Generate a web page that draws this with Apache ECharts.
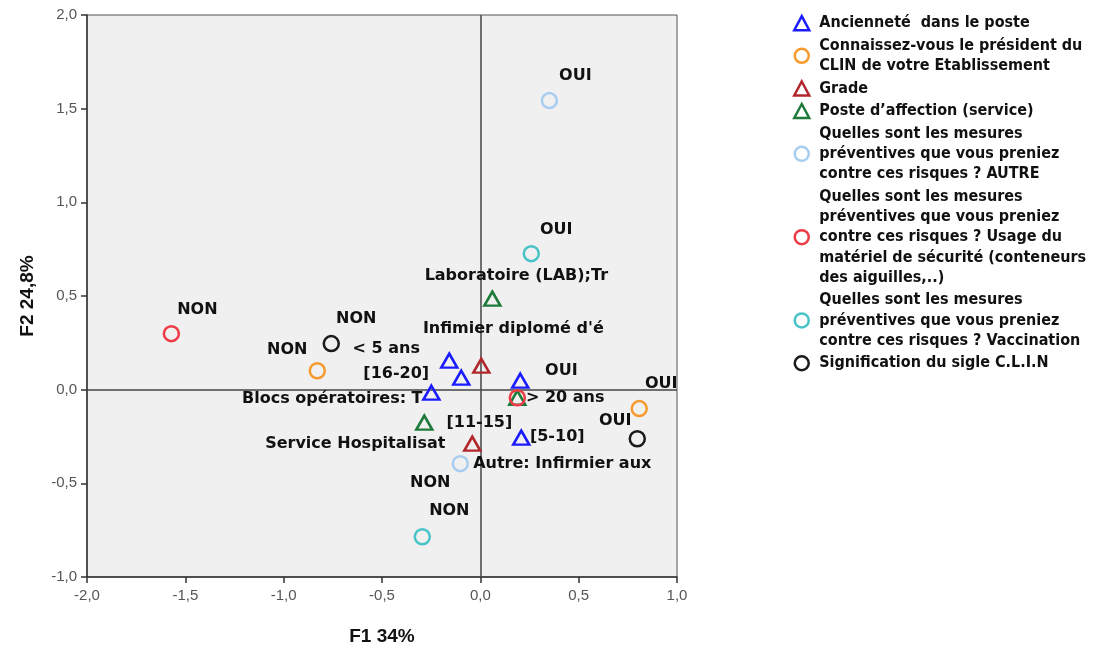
<!DOCTYPE html>
<html>
<head>
<meta charset="utf-8">
<script src="https://cdn.jsdelivr.net/npm/echarts@6/dist/echarts.min.js"></script>
<style>html,body{margin:0;padding:0;background:#fff;}#chart{width:1104px;height:651px;}</style>
</head>
<body>
<div id="chart"></div>
<script>
// ---- Data ----
const seriesNames = [
  'Ancienneté  dans le poste',
  'Connaissez-vous le président du CLIN de votre Etablissement',
  'Grade',
  'Poste d’affection (service)',
  'Quelles sont les mesures préventives que vous preniez contre ces risques ? AUTRE',
  'Quelles sont les mesures préventives que vous preniez contre ces risques ? Usage du matériel de sécurité (conteneurs des aiguilles,..)',
  'Quelles sont les mesures préventives que vous preniez contre ces risques ? Vaccination',
  'Signification du sigle C.L.I.N'
];
const legendLines = [
  'Ancienneté  dans le poste',
  'Connaissez-vous le président du\nCLIN de votre Etablissement',
  'Grade',
  'Poste d’affection (service)',
  'Quelles sont les mesures\npréventives que vous preniez\ncontre ces risques ? AUTRE',
  'Quelles sont les mesures\npréventives que vous preniez\ncontre ces risques ? Usage du\nmatériel de sécurité (conteneurs\ndes aiguilles,..)',
  'Quelles sont les mesures\npréventives que vous preniez\ncontre ces risques ? Vaccination',
  'Signification du sigle C.L.I.N'
];

const ancienneteLabels = ['< 5 ans', '[16-20]', '[11-15]', '> 20 ans', '[5-10]'];
const ancienneteF1 = [-0.158, -0.097, -0.249, 0.203, 0.208];
const ancienneteF2 = [0.155, 0.064, -0.016, 0.048, -0.256];

const clinLabels = ['NON', 'OUI'];
const clinF1 = [-0.829, 0.808];
const clinF2 = [0.101, -0.101];

const gradeLabels = ['Infimier diplomé d\'é', 'Autre: Infirmier aux'];
const gradeF1 = [0.005, -0.041];
const gradeF2 = [0.128, -0.288];

const posteLabels = ['Laboratoire (LAB);Tr', 'Blocs opératoires: T', 'Service Hospitalisat'];
const posteF1 = [0.061, -0.285, 0.188];
const posteF2 = [0.486, -0.176, -0.043];

const autreLabels = ['OUI', 'NON'];
const autreF1 = [0.351, -0.102];
const autreF2 = [1.543, -0.395];

const usageLabels = ['NON', 'OUI'];
const usageF1 = [-1.571, 0.188];
const usageF2 = [0.299, -0.043];

const vaccinLabels = ['OUI', 'NON'];
const vaccinF1 = [0.259, -0.295];
const vaccinF2 = [0.726, -0.785];

const sigleLabels = ['NON', 'OUI'];
const sigleF1 = [-0.758, 0.798];
const sigleF2 = [0.246, -0.262];

const xTicks = [-2.0, -1.5, -1.0, -0.5, 0.0, 0.5, 1.0];
const yTicks = [-1.0, -0.5, 0.0, 0.5, 1.0, 1.5, 2.0];

// ---- Layout / styles ----
const seriesF1 = [ancienneteF1, clinF1, gradeF1, posteF1, autreF1, usageF1, vaccinF1, sigleF1];
const seriesF2 = [ancienneteF2, clinF2, gradeF2, posteF2, autreF2, usageF2, vaccinF2, sigleF2];
const seriesLabels = [ancienneteLabels, clinLabels, gradeLabels, posteLabels, autreLabels, usageLabels, vaccinLabels, sigleLabels];
const colors = ['#1b1bff', '#f79a2e', '#b2272d', '#1e7a3a', '#a8cdf0', '#ee3b46', '#48c4c8', '#1a1a1a'];
const shapes = ['triangle', 'circle', 'triangle', 'triangle', 'circle', 'circle', 'circle', 'circle'];
const labelOffsets = [
  [[-63, -12], [-65, -4], [48, 30], [45, 17], [36, -1]],
  [[-30, -21], [22, -25]],
  [[32, -37], [90, 20]],
  [[24, -23], [-92, -24], [-162, 46]],
  [[26, -25], [-30, 19]],
  [[26, -24], [44, -27]],
  [[25, -24], [27, -26]],
  [[25, -25], [-22, -18]]
];

const fmt = v => v.toFixed(1).replace('.', ',');

const series = seriesNames.map((name, i) => {
  const data = seriesF1[i].map((x, j) => ({
    value: [x, seriesF2[i][j]],
    name: seriesLabels[i][j],
    label: { offset: labelOffsets[i][j] }
  }));
  const s = {
    name: name,
    type: 'scatter',
    symbol: shapes[i],
    symbolSize: shapes[i] === 'triangle' ? [16, 14] : 15,
    itemStyle: { color: 'rgba(0,0,0,0)', borderColor: colors[i], borderWidth: 2.5, opacity: 1 },
    label: {
      show: true,
      position: 'inside',
      formatter: p => p.name,
      fontFamily: 'DejaVu Sans',
      fontWeight: 'bold',
      fontSize: 16,
      color: '#111',
      align: 'center',
      verticalAlign: 'middle'
    },
    emphasis: { disabled: true },
    data: data,
    z: 3
  };
  if (i === 0) {
    s.markLine = {
      silent: true,
      symbol: 'none',
      label: { show: false },
      lineStyle: { color: '#444', width: 1.5, type: 'solid' },
      data: [{ xAxis: 0 }, { yAxis: 0 }],
      z: 1
    };
  }
  return s;
});

const chart = echarts.init(document.getElementById('chart'));
chart.setOption({
  animation: false,
  backgroundColor: '#ffffff',
  grid: {
    left: 87, right: 427, top: 15, bottom: 73,
    show: true, backgroundColor: '#f0f0f0', borderColor: '#555', borderWidth: 1
  },
  xAxis: {
    type: 'value', min: xTicks[0], max: xTicks[xTicks.length - 1], interval: 0.5,
    name: 'F1 34%', nameLocation: 'middle', nameGap: 50,
    nameTextStyle: { fontFamily: 'Liberation Sans', fontWeight: 'bold', fontSize: 19, color: '#111' },
    axisLine: { show: true, onZero: false, lineStyle: { color: '#333', width: 1.5 } },
    axisTick: { show: true, length: 6, lineStyle: { color: '#333', width: 1.5 } },
    axisLabel: { formatter: fmt, fontFamily: 'Liberation Sans', fontSize: 15, color: '#555', margin: 11 },
    splitLine: { show: false }
  },
  yAxis: {
    type: 'value', min: yTicks[0], max: yTicks[yTicks.length - 1], interval: 0.5,
    name: 'F2 24,8%', nameLocation: 'middle', nameGap: 50,
    nameTextStyle: { fontFamily: 'Liberation Sans', fontWeight: 'bold', fontSize: 19, color: '#111' },
    axisLine: { show: true, onZero: false, lineStyle: { color: '#333', width: 1.5 } },
    axisTick: { show: true, length: 6, lineStyle: { color: '#333', width: 1.5 } },
    axisLabel: { formatter: fmt, fontFamily: 'Liberation Sans', fontSize: 15, color: '#555', margin: 10 },
    splitLine: { show: false }
  },
  legend: {
    orient: 'vertical',
    left: 788, top: 8,
    itemWidth: 15, itemHeight: 14, itemGap: 2.3,
    selectedMode: false,
    data: seriesNames.map((n, i) => ({
      name: n,
      icon: shapes[i],
      itemStyle: { color: 'rgba(0,0,0,0)', borderColor: colors[i], borderWidth: 2.5 }
    })),
    formatter: name => legendLines[seriesNames.indexOf(name)],
    textStyle: {
      fontFamily: "'DejaVu Sans Condensed', 'DejaVu Sans'",
      fontWeight: 'bold', fontSize: 16, lineHeight: 20.25, color: '#111',
      padding: [0, 0, 0, 5]
    }
  },
  series: series
});
</script>
</body>
</html>
